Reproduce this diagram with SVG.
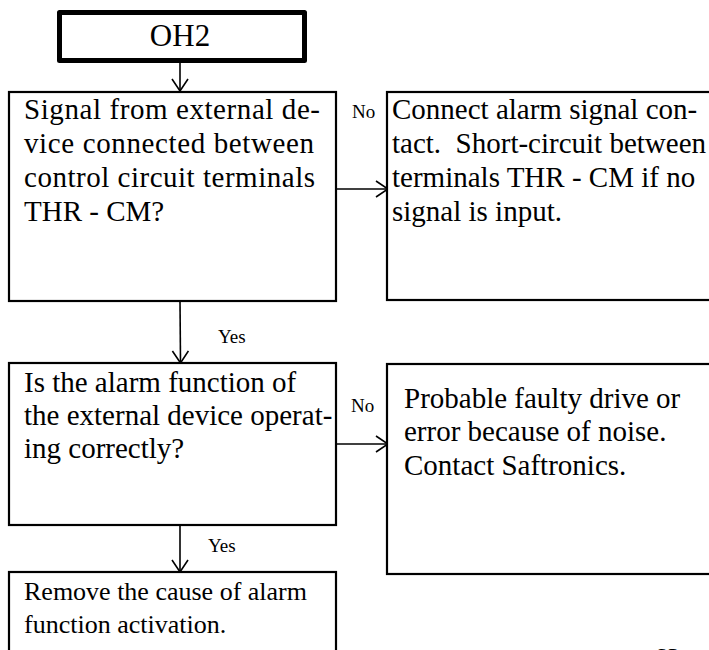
<svg xmlns="http://www.w3.org/2000/svg" width="709" height="650" viewBox="0 0 709 650">
<defs>
<style>
.box{fill:#fff;stroke:#000;stroke-width:2.2}
.start{fill:#fff;stroke:#000;stroke-width:5;stroke-linejoin:round}
.t{font-family:"Liberation Serif","Times New Roman",serif;font-size:29px;fill:#000}
.s{font-family:"Liberation Serif","Times New Roman",serif;font-size:26px;fill:#000}
.lbl{font-family:"Liberation Serif","Times New Roman",serif;font-size:19px;fill:#000}
.c{fill:none;stroke:#000;stroke-width:1.6}
</style>
<marker id="arr" viewBox="0 0 14 18" refX="13" refY="9" markerWidth="14" markerHeight="18" markerUnits="userSpaceOnUse" orient="auto">
<path d="M1,1 L13,9 L1,17" fill="none" stroke="#000" stroke-width="1.6"/>
</marker>
</defs>
<rect width="709" height="650" fill="#fff"/>
<g id="connectors">
<line class="c" x1="180" y1="63" x2="180" y2="91" marker-end="url(#arr)"/>
<line class="c" x1="336" y1="189" x2="388" y2="189" marker-end="url(#arr)"/>
<line class="c" x1="180" y1="301" x2="180.5" y2="363" marker-end="url(#arr)"/>
<line class="c" x1="336" y1="444" x2="388" y2="444" marker-end="url(#arr)"/>
<line class="c" x1="180" y1="525" x2="180" y2="572" marker-end="url(#arr)"/>
<text class="lbl" x="352" y="118">No</text>
<text class="lbl" x="218" y="343">Yes</text>
<text class="lbl" x="351" y="412">No</text>
<text class="lbl" x="208" y="552">Yes</text>
</g>
<g id="oh2">
<rect class="start" x="59.5" y="12.5" width="245" height="48"/>
<text class="t" x="180" y="46" text-anchor="middle" style="font-size:31px">OH2</text>
</g>
<g id="q1">
<rect class="box" x="9" y="92" width="327" height="209"/>
<text class="t" x="24" y="119" textLength="296">Signal from external de-</text>
<text class="t" x="24" y="153" textLength="290">vice connected between</text>
<text class="t" x="24" y="187" textLength="291">control circuit terminals</text>
<text class="t" x="24" y="221">THR - CM?</text>
</g>
<g id="a1">
<rect class="box" x="387" y="92" width="340" height="208"/>
<text class="t" x="392" y="119">Connect alarm signal con-</text>
<text class="t" x="392" y="153" xml:space="preserve">tact.  Short-circuit between</text>
<text class="t" x="392" y="187">terminals THR - CM if no</text>
<text class="t" x="392" y="221">signal is input.</text>
</g>
<g id="q2">
<rect class="box" x="9" y="363" width="327" height="162"/>
<text class="t" x="24" y="392">Is the alarm function of</text>
<text class="t" x="24" y="425">the external device operat-</text>
<text class="t" x="24" y="458">ing correctly?</text>
</g>
<g id="a2">
<rect class="box" x="387" y="364" width="340" height="210"/>
<text class="t" x="404" y="408">Probable faulty drive or</text>
<text class="t" x="404" y="441">error because of noise.</text>
<text class="t" x="404" y="475">Contact Saftronics.</text>
</g>
<g id="a3">
<rect class="box" x="9" y="572" width="327" height="100"/>
<text class="s" x="24" y="600">Remove the cause of alarm</text>
<text class="s" x="24" y="633">function activation.</text>
</g>
<text class="s" x="654" y="666">63</text>
</svg>
